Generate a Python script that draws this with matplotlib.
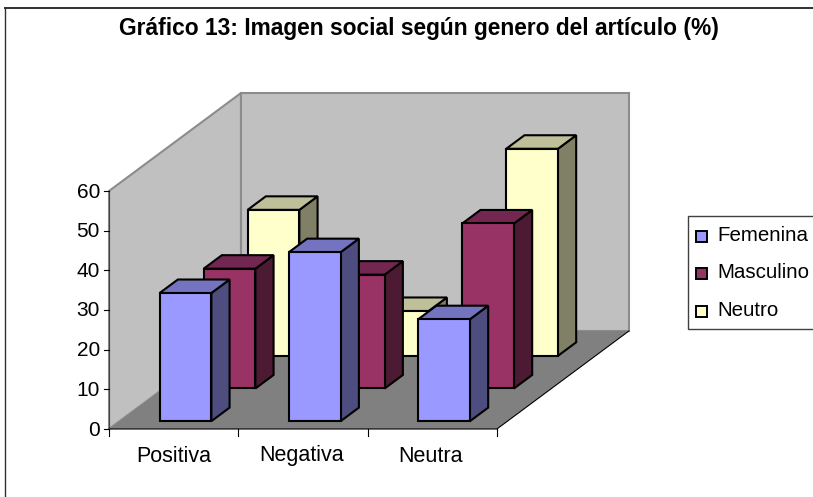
"""Gráfico 13: oblique 3D column chart, Excel style."""

import matplotlib

matplotlib.use("Agg")

import matplotlib.pyplot as plt
import numpy as np
from matplotlib.patches import Polygon, Rectangle

plt.rcParams["font.family"] = ["Liberation Sans", "DejaVu Sans"]

TITLE = "Gráfico 13: Imagen social según genero del artículo (%)"
CATEGORIES = ["Positiva", "Negativa", "Neutra"]
SERIES = ["Femenina", "Masculino", "Neutro"]
FEMENINA = [32.3, 42.6, 25.7]
MASCULINO = [30.2, 28.7, 41.6]
NEUTRO = [36.8, 11.3, 52.2]
Y_TICKS = [0, 10, 20, 30, 40, 50, 60]

FACE_COLORS = ["#9999FF", "#993366", "#FFFFCC"]
TOP_COLORS = ["#7373BF", "#732650", "#BFBF99"]
SIDE_COLORS = ["#4D4D80", "#4D1A33", "#808066"]

# projection, in image pixels
X0, Y0 = 109, 429
DEPTH_DX, DEPTH_DY = 132, -98
CAT_STEP = 129.3
Y_SCALE = (429 - 191) / 60
Y_MAX = 60


def project(cat, depth, value):
    """cat in category units, depth 0..1 front to back, value in data units."""
    x = X0 + cat * CAT_STEP + depth * DEPTH_DX
    y = Y0 + depth * DEPTH_DY - value * Y_SCALE
    return x, y


def poly(ax, pts, face, edge="black", lw=1.5, zorder=2):
    ax.add_patch(Polygon(pts, closed=True, facecolor=face, edgecolor=edge,
                         linewidth=lw, joinstyle="miter", zorder=zorder))


def draw_bar(ax, cat, series, value, idx):
    left = cat + 0.31
    width = 0.4
    d0 = 0.08 + series / 3
    d1 = d0 + 0.138
    front = [project(left, d0, 0), project(left + width, d0, 0),
             project(left + width, d0, value), project(left, d0, value)]
    side = [project(left + width, d0, 0), project(left + width, d1, 0),
            project(left + width, d1, value), project(left + width, d0, value)]
    top = [project(left, d0, value), project(left + width, d0, value),
           project(left + width, d1, value), project(left, d1, value)]
    poly(ax, side, SIDE_COLORS[idx])
    poly(ax, top, TOP_COLORS[idx])
    poly(ax, front, FACE_COLORS[idx])


fig = plt.figure(figsize=(8.13, 4.97), dpi=100)
ax = fig.add_axes([0, 0, 1, 1])
ax.set_xlim(0, 813)
ax.set_ylim(497, 0)
ax.axis("off")

# chart frame
ax.plot([5, 5], [497, 8], color="#303030", lw=1.0, zorder=1)
ax.plot([5, 813], [8, 8], color="#303030", lw=1.4, zorder=1)

ax.text(419, 29, TITLE, ha="center", va="center", fontsize=16.4, fontweight="bold")

# walls and floor
n_cat = len(CATEGORIES)
wall_edge = "#8C8C8C"
poly(ax, [project(0, 0, 0), project(0, 1, 0), project(0, 1, Y_MAX), project(0, 0, Y_MAX)],
     "#C0C0C0", edge=wall_edge, lw=1.5, zorder=1)
poly(ax, [project(0, 1, 0), project(n_cat, 1, 0), project(n_cat, 1, Y_MAX), project(0, 1, Y_MAX)],
     "#C0C0C0", edge=wall_edge, lw=1.5, zorder=1)
poly(ax, [project(0, 0, 0), project(n_cat, 0, 0), project(n_cat, 1, 0), project(0, 1, 0)],
     "#808080", edge="none", lw=0, zorder=1)

# axis lines
x_a, y_a = project(0, 0, 0)
x_b, y_b = project(n_cat, 0, 0)
x_c, y_c = project(n_cat, 1, 0)
ax.plot([x_a, x_b, x_c], [y_a, y_b, y_c], color="black", lw=0.8, zorder=3)
ax.plot([x_a, x_a], [y_a, project(0, 0, Y_MAX)[1]], color="#404040", lw=0.8, zorder=3)

for v in Y_TICKS:
    _, yy = project(0, 0, v)
    ax.plot([x_a - 5, x_a], [yy, yy], color="black", lw=0.8, zorder=3)
    ax.text(x_a - 9, yy + 1, str(v), ha="right", va="center", fontsize=15)

for c in np.arange(n_cat + 1):
    xx, _ = project(c, 0, 0)
    ax.plot([xx, xx], [y_a, y_a + 7], color="black", lw=0.8, zorder=3)

for c, label in enumerate(CATEGORIES):
    xx, _ = project(c + 0.5, 0, 0)
    ax.text(xx - c, 456, label, ha="center", va="center", fontsize=15.5)

# bars, back series first
for idx, values in reversed(list(enumerate([FEMENINA, MASCULINO, NEUTRO]))):
    for c, v in enumerate(values):
        draw_bar(ax, c, idx, v, idx)

# legend
ax.add_patch(Rectangle((688, 216), 140, 113, facecolor="white", edgecolor="#404040",
                       linewidth=1.0, zorder=4))
for i, name in enumerate(SERIES):
    yy = 236.5 + i * 37.3
    ax.add_patch(Rectangle((696, yy - 5.5), 11, 11, facecolor=FACE_COLORS[i],
                           edgecolor="black", linewidth=1.4, zorder=5))
    ax.text(717, yy - 1, name, ha="left", va="center", fontsize=14.8, zorder=5)

fig.savefig("out.png", dpi=100)
